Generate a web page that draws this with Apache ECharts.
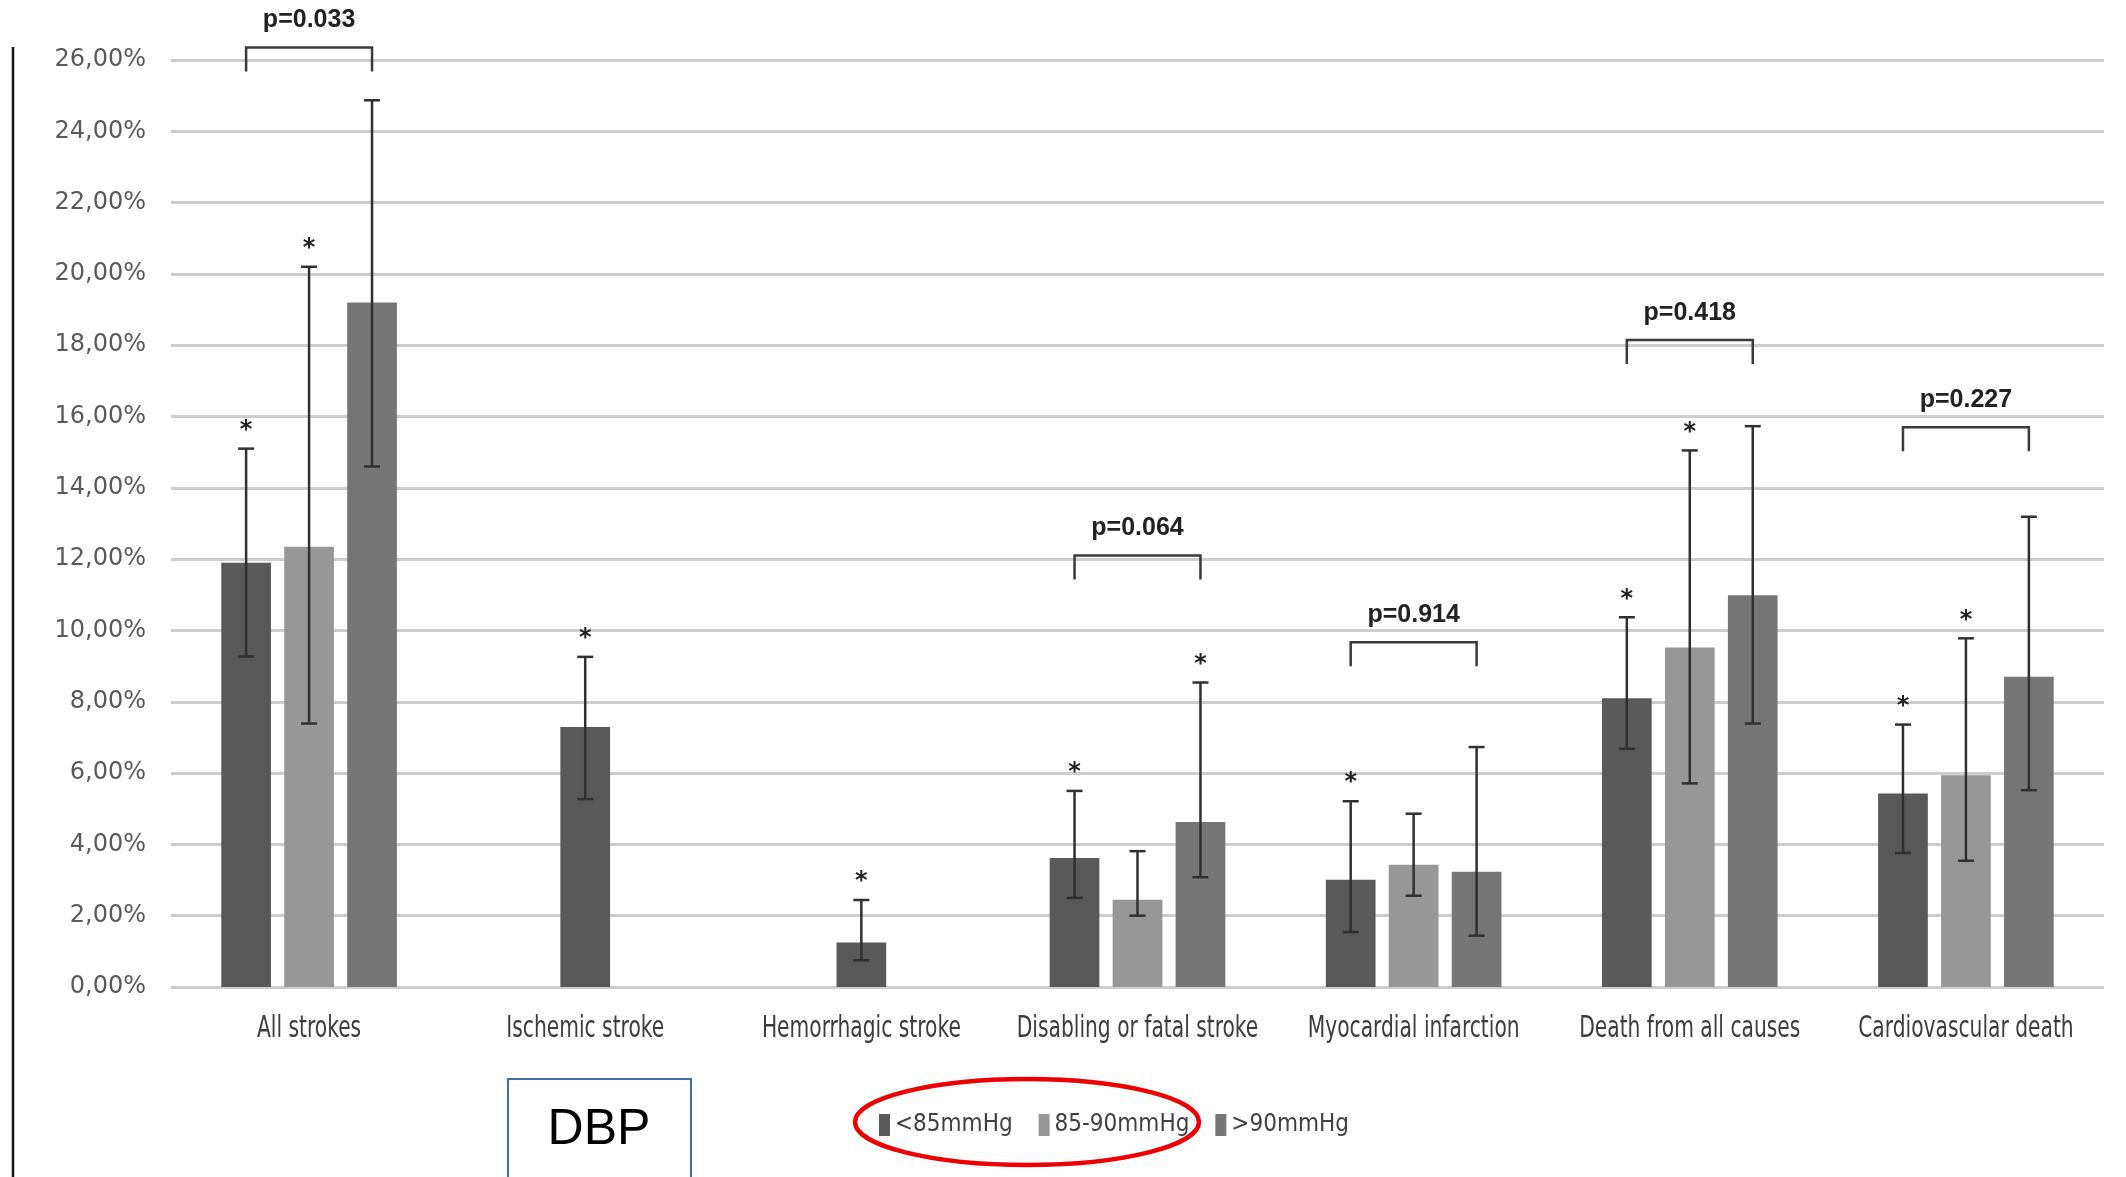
<!DOCTYPE html>
<html>
<head>
<meta charset="utf-8">
<title>DBP outcomes</title>
<script src="https://cdn.jsdelivr.net/npm/echarts@6/dist/echarts.min.js"></script>
<style>
  html, body { margin: 0; padding: 0; background: #ffffff; }
  #chart { width: 2126px; height: 1177px; }
</style>
</head>
<body>
<div id="chart"></div>
<script>
// ---- data (event rates, %) ----
const categories = ['All strokes', 'Ischemic stroke', 'Hemorrhagic stroke',
  'Disabling or fatal stroke', 'Myocardial infarction', 'Death from all causes',
  'Cardiovascular death'];

const seriesNames = ['<85mmHg', '85-90mmHg', '>90mmHg'];

const lt85      = [11.90, 7.29, 1.25, 3.62, 3.01, 8.10, 5.43];
const lt85Low   = [9.27, 5.27, 0.75, 2.50, 1.54, 6.68, 3.76];
const lt85High  = [15.10, 9.26, 2.44, 5.50, 5.21, 10.37, 7.36];
const lt85Star  = [true, true, true, true, true, true, true];

const mid       = [12.35, null, null, 2.45, 3.43, 9.52, 5.94];
const midLow    = [7.39, null, null, 2.00, 2.56, 5.71, 3.54];
const midHigh   = [20.20, null, null, 3.81, 4.86, 15.05, 9.78];
const midStar   = [true, false, false, false, false, true, true];

const gt90      = [19.20, null, null, 4.63, 3.23, 10.99, 8.70];
const gt90Low   = [14.60, null, null, 3.08, 1.44, 7.39, 5.52];
const gt90High  = [24.87, null, null, 8.54, 6.73, 15.73, 13.19];
const gt90Star  = [false, false, false, true, false, false, false];

const pLabels       = ['p=0.033', null, null, 'p=0.064', 'p=0.914', 'p=0.418', 'p=0.227'];
const bracketLevels = [26.35, null, null, 12.10, 9.67, 18.15, 15.70];

const yMin = 0, yMax = 26, yStep = 2;

// ---- styling ----
const barColors = ['#595959', '#979797', '#767676'];
const BAR_W = 0.18;     // bar width as a share of the category band
const PITCH = 0.228;    // distance between neighbouring bars, share of band
const NARROW = "'DejaVu Sans Condensed', 'Liberation Sans Narrow', sans-serif";

// number of bars present in each category (single bars sit centred)
const barsPerCat = categories.map((_, i) =>
  [lt85[i], mid[i], gt90[i]].filter(v => v != null).length);

function toData(vals, lows, highs, stars) {
  const out = [];
  vals.forEach((v, i) => {
    if (v != null) out.push([i, v, lows[i], highs[i], stars[i] ? 1 : 0]);
  });
  return out;
}

function barRenderer(slot, color) {
  return function (params, api) {
    const ci = api.value(0);
    const v = api.value(1);
    const lo = api.value(2);
    const hi = api.value(3);
    const star = api.value(4);
    const band = api.size([1, 0])[0];
    const base = api.coord([ci, 0]);
    const off = barsPerCat[ci] === 1 ? 0 : (slot - 1) * band * PITCH;
    const cx = base[0] + off;
    const w = band * BAR_W;
    const yTop = api.coord([ci, v])[1];
    const yLo = api.coord([ci, lo])[1];
    const yHi = api.coord([ci, hi])[1];
    const cap = 8;
    const errStyle = { stroke: '#303030', lineWidth: 2.5 };
    const children = [
      { type: 'rect', shape: { x: cx - w / 2, y: yTop, width: w, height: base[1] - yTop },
        style: { fill: color } },
      { type: 'line', shape: { x1: cx, y1: yLo, x2: cx, y2: yHi }, style: errStyle },
      { type: 'line', shape: { x1: cx - cap, y1: yHi, x2: cx + cap, y2: yHi }, style: errStyle },
      { type: 'line', shape: { x1: cx - cap, y1: yLo, x2: cx + cap, y2: yLo }, style: errStyle }
    ];
    if (star) {
      children.push({
        type: 'text',
        style: { text: '*', x: cx, y: yHi - 18, fill: '#222222',
          font: 'bold 24px "DejaVu Sans"', align: 'center', verticalAlign: 'middle' }
      });
    }
    return { type: 'group', children: children };
  };
}

const bracketData = [];
pLabels.forEach((p, i) => { if (p) bracketData.push([i, bracketLevels[i]]); });

function bracketRenderer(params, api) {
  const ci = api.value(0);
  const lvl = api.value(1);
  const band = api.size([1, 0])[0];
  const c = api.coord([ci, lvl]);
  const x1 = c[0] - band * PITCH;
  const x2 = c[0] + band * PITCH;
  const leg = 24;
  return {
    type: 'group',
    children: [
      { type: 'polyline',
        shape: { points: [[x1, c[1] + leg], [x1, c[1]], [x2, c[1]], [x2, c[1] + leg]] },
        style: { stroke: '#3a3a3a', lineWidth: 2.5, fill: null } },
      { type: 'text',
        style: { text: pLabels[ci], x: c[0], y: c[1] - 27, fill: '#222222',
          font: 'bold 25px "Liberation Sans", Arial, sans-serif',
          align: 'center', verticalAlign: 'middle' } }
    ]
  };
}

// category names under the axis, in a narrow tall face
function categoryLabelRenderer(params, api) {
  const ci = api.value(0);
  const p = api.coord([ci, 0]);
  return {
    type: 'text',
    x: p[0], y: p[1] + 42,
    scaleX: 0.75,
    style: { text: categories[ci], x: 0, y: 0, fill: '#3c3c3c',
      font: '30px ' + NARROW, align: 'center', verticalAlign: 'middle' }
  };
}

const chart = echarts.init(document.getElementById('chart'));

chart.setOption({
  animation: false,
  backgroundColor: '#ffffff',
  grid: { left: 171, right: 22, top: 60, bottom: 190 },
  legend: {
    data: seriesNames,
    left: 874,
    top: 1108,
    icon: 'rect',
    itemWidth: 11,
    itemHeight: 22,
    itemGap: 26,
    textStyle: { fontFamily: NARROW, fontSize: 24, color: '#404040' }
  },
  xAxis: {
    type: 'category',
    data: categories,
    axisLine: { show: false },
    axisTick: { show: false },
    axisLabel: { show: false },
    splitLine: { show: false }
  },
  yAxis: {
    type: 'value',
    min: yMin, max: yMax, interval: yStep,
    axisLine: { show: false },
    axisTick: { show: false },
    axisLabel: {
      margin: 25,
      fontFamily: '"DejaVu Sans", Verdana, sans-serif',
      fontSize: 24,
      color: '#595959',
      formatter: v => v.toFixed(2).replace('.', ',') + '%'
    },
    splitLine: { lineStyle: { color: '#cdcdcd', width: 3 } }
  },
  series: [
    { name: seriesNames[0], type: 'custom', itemStyle: { color: barColors[0] },
      renderItem: barRenderer(0, barColors[0]), encode: { x: 0, y: 1 },
      data: toData(lt85, lt85Low, lt85High, lt85Star), z: 3 },
    { name: seriesNames[1], type: 'custom', itemStyle: { color: barColors[1] },
      renderItem: barRenderer(1, barColors[1]), encode: { x: 0, y: 1 },
      data: toData(mid, midLow, midHigh, midStar), z: 3 },
    { name: seriesNames[2], type: 'custom', itemStyle: { color: barColors[2] },
      renderItem: barRenderer(2, barColors[2]), encode: { x: 0, y: 1 },
      data: toData(gt90, gt90Low, gt90High, gt90Star), z: 3 },
    { type: 'custom', renderItem: bracketRenderer, encode: { x: 0, y: 1 },
      data: bracketData, silent: true, z: 4 },
    { type: 'custom', renderItem: categoryLabelRenderer, encode: { x: 0, y: 1 },
      data: categories.map((c, i) => [i, 0]), silent: true, z: 4 }
  ],
  graphic: [
    // frame line on the left edge
    { type: 'line', shape: { x1: 13, y1: 47, x2: 13, y2: 1177 },
      style: { stroke: '#111111', lineWidth: 2.5 } },
    // panel tag
    { type: 'rect', shape: { x: 508, y: 1079, width: 183, height: 120 },
      style: { fill: '#ffffff', stroke: '#41719c', lineWidth: 2 } },
    { type: 'text', x: 599, y: 1130,
      style: { text: 'DBP', fill: '#000000', font: '50px "Liberation Sans", Arial, sans-serif',
        align: 'center', verticalAlign: 'middle' } },
    // highlight ring around the first two legend entries
    { type: 'ellipse', shape: { cx: 1027, cy: 1122, rx: 172, ry: 43 },
      style: { fill: null, stroke: '#ee0000', lineWidth: 4.5 }, z: 100 }
  ]
});
</script>
</body>
</html>
